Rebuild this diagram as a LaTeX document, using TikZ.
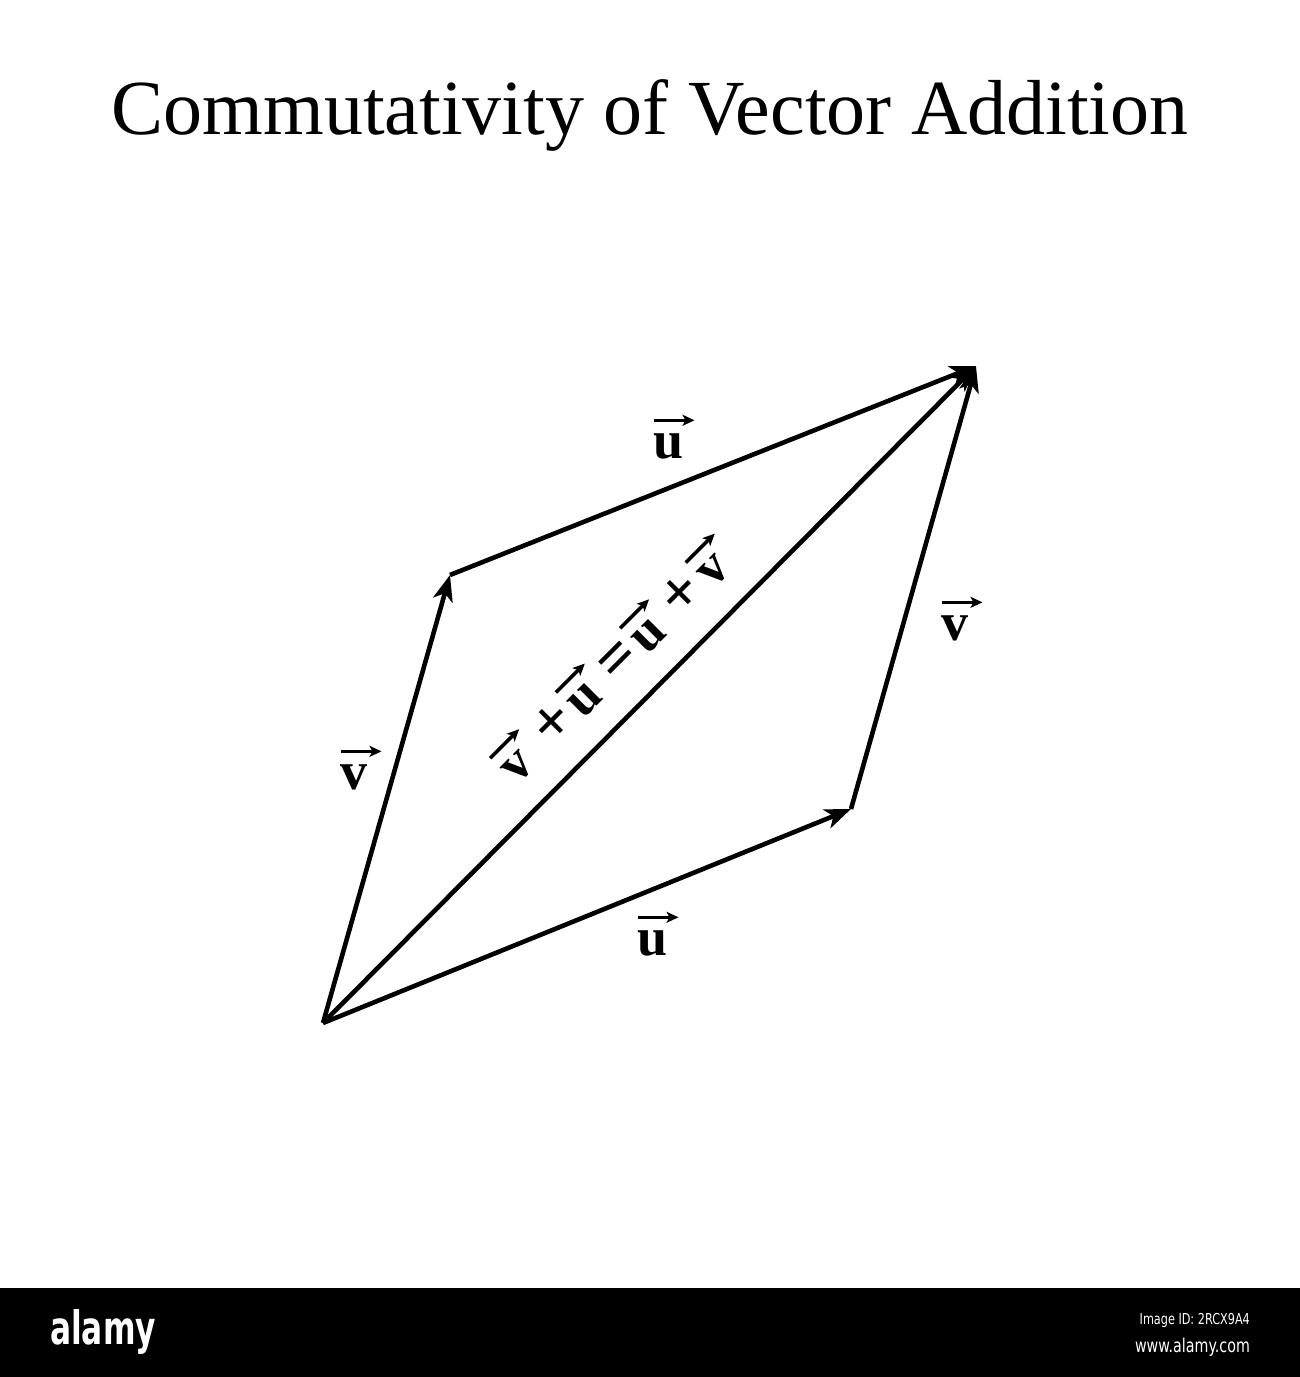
\documentclass[tikz,border=0pt]{standalone}
\usepackage{fontspec}
\setmainfont{Liberation Serif}
\newfontfamily\wmfont{DejaVu Sans}
\usetikzlibrary{arrows.meta}
\newcommand\myvec[1]{\vbox{\offinterlineskip\hbox{\kern-2pt\tikz\draw[line width=3.4pt,-{Stealth[length=12pt,width=11pt,inset=3pt]}] (0pt,0pt) -- (41pt,0pt);}\kern8pt\hbox{\bfseries #1}}}
\newcommand\myop[1]{{\bfseries\fontsize{64}{60}\selectfont #1}}
\begin{document}
\begin{tikzpicture}[x=1pt,y=-1pt,
  vecline/.style={line width=4.6pt, line join=miter, -{Stealth[length=26pt,width=20pt,inset=7pt]}},
  veclabel/.style={font=\fontsize{54}{60}\selectfont, inner sep=0pt},
  titlestyle/.style={font=\fontsize{78}{82}\selectfont, inner sep=0pt, anchor=base},
  wmtext/.style={text=white, inner sep=0pt}]
\useasboundingbox (0,0) rectangle (1300,1377);
\fill[white] (0,0) rectangle (1300,1377);
% title
\node[titlestyle] (title) at (650,134) {Commutativity of Vector Addition};
% points
\coordinate (O) at (323,1023);
\coordinate (A) at (450,575);
\coordinate (B) at (851,809);
\coordinate (C) at (976,366);
% vectors
\draw[vecline] (O) -- (A);
\draw[vecline] (A) -- (C);
\draw[vecline] (O) -- (B);
\draw[vecline] (B) -- (C);
\draw[vecline] (O) -- (C);
% labels
\node[veclabel] (lv) at (362,768) {\myvec{v}};
\node[veclabel] (lu) at (675,437) {\myvec{u}};
\node[veclabel] (rv) at (963,619) {\myvec{v}};
\node[veclabel] (bu) at (659,934) {\myvec{u}};
\node[veclabel, rotate=45] (diag) at (615,657) {\myvec{v}\kern8pt\myop{+}\kern6pt\myvec{u}\kern6pt\myop{=}\kern6pt\myvec{u}\kern6pt\myop{+}\kern8pt\myvec{v}};
% watermark bar
\fill[black] (0,1288) rectangle (1300,1377);
\node[wmtext, font=\wmfont\bfseries\fontsize{46}{50}\selectfont, anchor=base west, xscale=0.68] (alamy) at (50,1344) {alamy};
\node[wmtext, font=\wmfont\fontsize{15}{18}\selectfont, anchor=base east, xscale=0.75] (imgid) at (1250,1324) {Image ID: 2RCX9A4};
\node[wmtext, font=\wmfont\fontsize{19}{22}\selectfont, anchor=base east, xscale=0.75] (www) at (1250,1352) {www.alamy.com};
\end{tikzpicture}
\end{document}
